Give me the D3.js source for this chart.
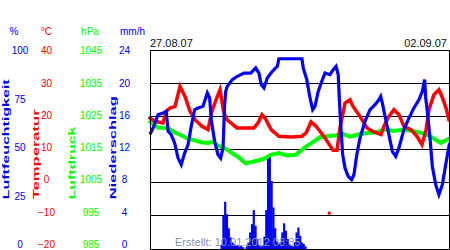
<!DOCTYPE html>
<html>
<head>
<meta charset="utf-8">
<script src="https://cdn.jsdelivr.net/npm/d3@7"></script>
<style>
  html, body { margin: 0; padding: 0; background: #fff; overflow: hidden; }
  svg { display: block; font-family: "Liberation Sans", Arial, sans-serif; }
</style>
</head>
<body>
<div id="chart"></div>
<script>
const START_LABEL = "27.08.07";
const END_LABEL = "02.09.07";
const CREATED = "Erstellt: 10.01.2012 08:35";

// hours since 27.08.07 00:00, value
const humidity = [
  [0.4, 58.3], [1.7, 60.8], [4.5, 67.5], [7.3, 68.3], [9.1, 69.2], [10.1, 59.3], [11.9, 57.4],
  [13.8, 53.3], [15.7, 45.7], [17.5, 42.4], [19.4, 48.2], [21.3, 52.4], [23.1, 61.7], [25, 70],
  [26.9, 70.9], [29.7, 71.7], [32.1, 78.4], [33.4, 75.9], [34.3, 65], [36.2, 54.1], [38.1, 47.4],
  [39.6, 45.7], [40.9, 50.8], [41.8, 72.5], [42.4, 79.2], [43.3, 81.8], [46.1, 85.1], [48.9, 86.8],
  [52.6, 88.4], [56.4, 88.4], [59.2, 91], [61, 88.4], [62.3, 82.6], [63.8, 80.9], [65.7, 85.9],
  [68.5, 89.3], [71.3, 91.8], [72.2, 95.6], [85.1, 95.6], [85.8, 91], [87.8, 85.1], [89.6, 75.9],
  [91.1, 70], [92.4, 71.7], [94.2, 79.2], [96.2, 84.3], [98, 88.4], [100.8, 87.6], [102.6, 90.1],
  [104.2, 91.8], [105.4, 87.6], [106, 75.9], [106.8, 62.5], [107.9, 47.4], [109.2, 40.7],
  [111, 36.5], [112.9, 34.8], [114.2, 37.3], [115.8, 47.4], [117.6, 55.8], [120.4, 64.2],
  [123.2, 70], [126, 72.5], [128.2, 75], [129.2, 76.7], [130.1, 73.4], [132, 65], [133.8, 57.4],
  [135.7, 49.1], [137.6, 46.6], [139.4, 50.8], [142.2, 60], [145, 65.8], [147.8, 70.9],
  [150.6, 75], [152.5, 79.2], [153.8, 85.1], [154.4, 75.9], [155.3, 69.2], [156.8, 55.8],
  [158.1, 41.6], [160, 32.3], [161.8, 27.3], [163.7, 32.3], [165.6, 42.4], [167.6, 52.4]
];

const temperature = [
  [0, 19.5], [2.8, 18.5], [7.3, 18], [9, 21.5], [11.2, 22.5], [14, 23], [16.8, 29], [19.6, 26],
  [22.4, 21.5], [25.2, 19], [29.1, 17], [32.5, 16], [34.7, 21.6], [37, 25], [39.2, 28], [41.4, 21],
  [43.1, 19], [48.7, 16.5], [58.2, 16.5], [60.5, 18], [62.7, 20.5], [65, 19], [67.8, 16], [72.2, 14],
  [79, 13.8], [85.1, 14], [87.4, 15], [90.2, 18.3], [93, 17], [95.2, 15.5], [98, 13.5],
  [102.5, 9.8], [104.7, 9.8], [106.4, 16.5], [109.2, 24], [112, 25], [113.7, 23], [117.6, 20],
  [121.5, 16.5], [125.4, 15.3], [129.4, 14.5], [131, 17], [133.8, 20], [136.6, 22], [139.4, 20.5],
  [142.2, 17], [146.2, 16], [149.5, 14], [152.3, 11.5], [154.6, 16], [156.2, 22], [159, 26.5],
  [161.8, 28], [163.5, 26], [165.8, 22.5], [167.4, 19]
];

const temperatureStray = [[100.4, -9.2]];

const pressure = [
  [0.4, 1023.3], [4.5, 1021.6], [10.1, 1021.4], [13.8, 1020.2], [17.5, 1019.3], [21.3, 1018.2],
  [25, 1017.8], [28.7, 1017.2], [32.5, 1017], [35.3, 1017.3], [38.1, 1016.2], [41.8, 1015.4],
  [45.2, 1014.2], [49.8, 1012.6], [53.6, 1010.8], [58.2, 1011.4], [63.8, 1012.2], [67.6, 1013.4],
  [72.2, 1013.9], [76.9, 1013.2], [81.6, 1013.4], [85.3, 1015], [87.8, 1016], [91.4, 1017.3],
  [95.2, 1018.7], [99, 1019], [104.6, 1019.3], [107.4, 1019.8], [112, 1018.9], [116.6, 1019.5],
  [121.4, 1020], [127, 1020.2], [131, 1021], [136.6, 1020.6], [142.2, 1021], [147.8, 1020.5],
  [153.4, 1019.8], [158.1, 1018.6], [162.8, 1017], [165.6, 1017.8], [167.6, 1018.2]
];

// hourly precipitation, mm/h
const precipitation = [
  [40, 0.5], [41, 4.0], [42, 5.7], [43, 4.2], [44, 2.5], [45, 1.4], [46, 0.8], [47, 0.6],
  [48, 0.4], [49, 0.5], [50, 0.3], [51, 0.4], [52, 0.2], [54, 0.3], [55, 0.8], [56, 2.0],
  [57, 3.0], [58, 4.7], [59, 2.8], [60, 1.2], [61, 0.5], [62, 0.3], [63, 0.4], [64, 1.5],
  [65, 4.7], [66, 11.2], [67, 11.4], [68, 8.2], [69, 5.0], [70, 2.5], [71, 0.9], [72, 0.6],
  [73, 0.8], [74, 2.0], [75, 3.1], [76, 2.2], [77, 1.2], [78, 0.6], [79, 0.4], [80, 0.3],
  [81, 0.8], [82, 2.0], [83, 2.6], [84, 1.6], [85, 0.8], [86, 0.6], [87, 0.3]
];

const humTicks = [0, 25, 50, 75, 100];
const tempTicks = [-20, -10, 0, 10, 20, 30, 40];
const pressTicks = [985, 995, 1005, 1015, 1025, 1035, 1045];
const rainTicks = [0, 4, 8, 12, 16, 20, 24];

const BLUE = "#0000ff";
const RED = "#ff0000";
const GREEN = "#00ff00";

function renderChart() {
  const width = 450;
  const height = 250;
  const plot = { left: 150, right: 450, top: 50, bottom: 249 };

  const svg = d3.select("#chart").append("svg").attr("width", width).attr("height", height);

  const x = d3.scaleLinear().domain([0, 168]).range([plot.left, plot.right]);
  const yHum = d3.scaleLinear().domain([0, 100]).range([plot.bottom, plot.top]);
  const yTemp = d3.scaleLinear().domain([-20, 40]).range([plot.bottom, plot.top]);
  const yPress = d3.scaleLinear().domain([985, 1045]).range([plot.bottom, plot.top]);
  const yRain = d3.scaleLinear().domain([0, 24]).range([plot.bottom, plot.top]);

  // grid
  svg.append("g")
    .selectAll("line")
    .data(tempTicks.slice(1, -1))
    .join("line")
    .attr("x1", plot.left)
    .attr("x2", plot.right)
    .attr("y1", (d) => Math.floor(yTemp(d)) + 0.5)
    .attr("y2", (d) => Math.floor(yTemp(d)) + 0.5)
    .attr("stroke", "#000")
    .attr("stroke-width", 1);

  // precipitation bars
  const barW = x(1) - x(0);
  svg.append("g")
    .selectAll("rect")
    .data(precipitation)
    .join("rect")
    .attr("x", (d) => x(d[0]) - barW / 2)
    .attr("width", barW + 0.4)
    .attr("y", (d) => yRain(d[1]))
    .attr("height", (d) => yRain(0) - yRain(d[1]))
    .attr("fill", BLUE);

  const series = [
    { data: pressure, y: yPress, color: GREEN, w: 4 },
    { data: temperature, y: yTemp, color: RED, w: 3.5 },
    { data: humidity, y: yHum, color: BLUE, w: 3.2 },
  ];

  series.forEach((s) => {
    const line = d3.line().x((d) => x(d[0])).y((d) => s.y(d[1]));
    svg.append("path")
      .datum(s.data)
      .attr("d", line)
      .attr("fill", "none")
      .attr("stroke", s.color)
      .attr("stroke-width", s.w)
      .attr("stroke-linejoin", "miter")
      .attr("stroke-linecap", "square");
  });

  svg.append("g")
    .selectAll("rect")
    .data(temperatureStray)
    .join("rect")
    .attr("x", (d) => x(d[0]) - 1.5)
    .attr("y", (d) => yTemp(d[1]) - 1.5)
    .attr("width", 3)
    .attr("height", 3)
    .attr("fill", RED);

  // frame
  svg.append("rect")
    .attr("x", plot.left + 0.5)
    .attr("y", plot.top + 0.5)
    .attr("width", plot.right - plot.left - 1)
    .attr("height", plot.bottom - plot.top)
    .attr("fill", "none")
    .attr("stroke", "#000");

  svg.append("text")
    .attr("x", 175)
    .attr("y", 246)
    .attr("font-size", 11)
    .attr("fill", "#8797a8")
    .text(CREATED);

  svg.append("text").attr("x", 150).attr("y", 47).attr("font-size", 11).attr("fill", "#111").text(START_LABEL);
  svg.append("text").attr("x", 447).attr("y", 47).attr("font-size", 11).attr("fill", "#111")
    .attr("text-anchor", "end").text(END_LABEL);

  // left-hand value columns
  const columns = [
    { ticks: humTicks, cx: 20, unit: "%", ux: 14, color: BLUE },
    { ticks: tempTicks, cx: 46.5, unit: "°C", ux: 46.5, color: RED },
    { ticks: pressTicks, cx: 91, unit: "hPa", ux: 90, color: GREEN },
    { ticks: rainTicks, cx: 124.5, unit: "mm/h", ux: 132.5, color: BLUE },
  ];

  columns.forEach((c) => {
    const labelY = d3.scaleLinear().domain(d3.extent(c.ticks)).range([244.3, 50.7]);
    const g = svg.append("g")
      .attr("transform", `translate(${c.cx},0)`)
      .call(d3.axisLeft(labelY).tickValues(c.ticks).tickFormat(d3.format("d")).tickSize(0).tickPadding(0));
    g.select(".domain").remove();
    g.attr("font-family", null).attr("font-size", 10);
    g.selectAll("text").attr("text-anchor", "middle").attr("x", 0).attr("fill", c.color);

    svg.append("text")
      .attr("x", c.ux)
      .attr("y", 34.5)
      .attr("font-size", 10)
      .attr("text-anchor", "middle")
      .attr("fill", c.color)
      .text(c.unit);
  });

  const titles = [
    { text: "Luftfeuchtigkeit", bx: 8.8, len: 120, color: BLUE },
    { text: "Temperatur", bx: 38.5, len: 90, color: RED },
    { text: "Luftdruck", bx: 75.3, len: 72.6, color: GREEN },
    { text: "Niederschlag", bx: 116, len: 103, color: BLUE },
  ];

  svg.append("g")
    .selectAll("text")
    .data(titles)
    .join("text")
    .attr("transform", (d) => `translate(${d.bx},199.3) rotate(-90)`)
    .attr("font-size", 9.5)
    .attr("font-weight", "bold")
    .attr("fill", (d) => d.color)
    .attr("textLength", (d) => d.len)
    .attr("lengthAdjust", "spacingAndGlyphs")
    .text((d) => d.text);
}

window.addEventListener("load", renderChart);
</script>
</body>
</html>
